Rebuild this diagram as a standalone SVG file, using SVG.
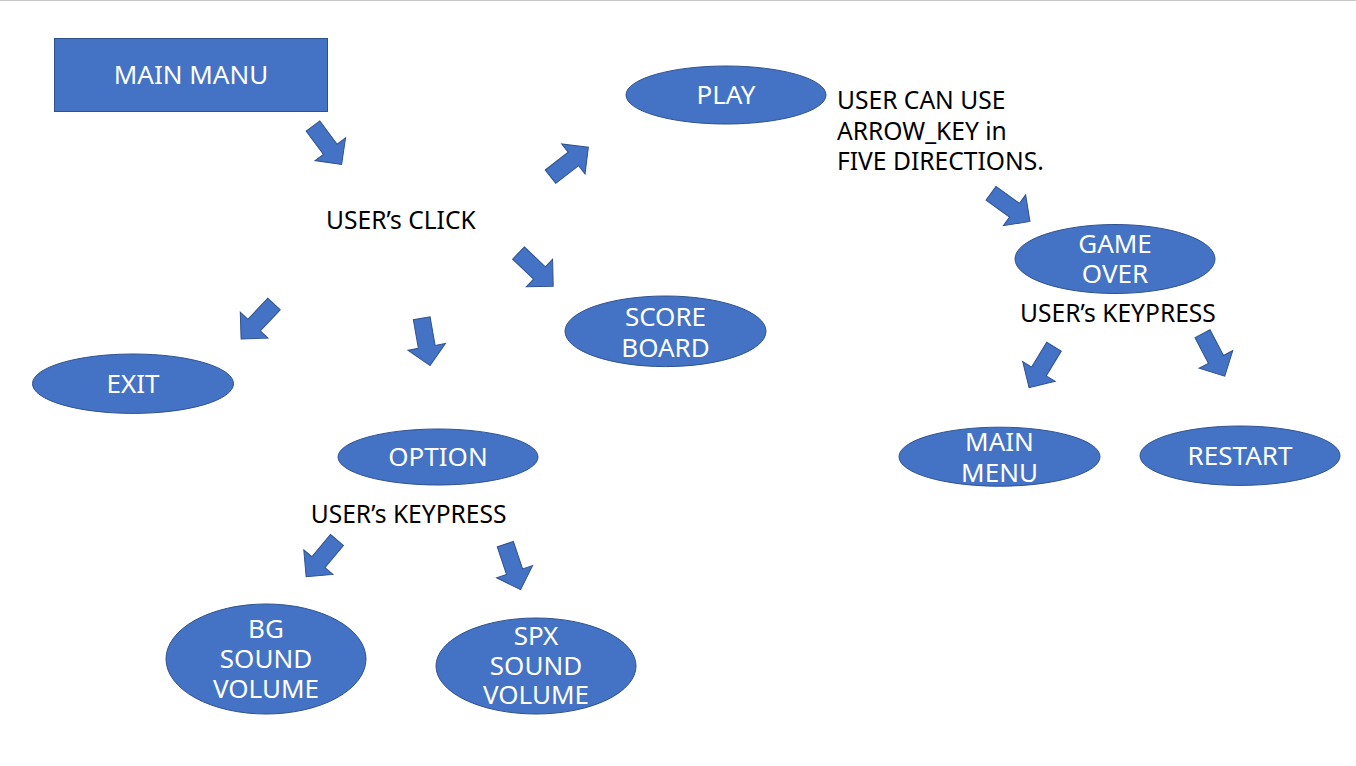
<svg xmlns="http://www.w3.org/2000/svg" xmlns:xlink="http://www.w3.org/1999/xlink" width="1356" height="766" viewBox="0 0 1356 766">
<style>
.node{fill:#4472C4;stroke:#2F528F;stroke-width:1}
.nt{font-family:"Noto Sans","Liberation Sans",sans-serif;font-size:26px;fill:#ffffff;text-anchor:middle}
.lt{font-family:"Noto Sans","Liberation Sans",sans-serif;font-size:24.6px;fill:#000000}
.arr{fill:#4472C4;stroke:#2F528F;stroke-width:1}
</style>
<defs>
<path id="arr" d="M0,-8.5 H29 V-19 L48,0 L29,19 V8.5 H0 Z"/>
</defs>
<rect x="0" y="0" width="1356" height="766" fill="#ffffff"/>
<line x1="0" y1="0.5" x2="1356" y2="0.5" stroke="#c8c8c8" stroke-width="1"/>
<g id="connectors" class="arr">
<use xlink:href="#arr" transform="translate(313,126) rotate(53.4)"/>
<use xlink:href="#arr" transform="translate(550.5,176.7) rotate(-37.9)"/>
<use xlink:href="#arr" transform="translate(991,193.3) rotate(35.8)"/>
<use xlink:href="#arr" transform="translate(518.5,253) rotate(43.7)"/>
<use xlink:href="#arr" transform="translate(274,304) rotate(133.3)"/>
<use xlink:href="#arr" transform="translate(421.7,318.3) rotate(80)"/>
<use xlink:href="#arr" transform="translate(337,540) rotate(130)"/>
<use xlink:href="#arr" transform="translate(505.3,544.2) rotate(71.4)"/>
<use xlink:href="#arr" transform="translate(1054,346.7) rotate(121.3)"/>
<use xlink:href="#arr" transform="translate(1202.5,333.7) rotate(62.4)"/>
</g>
<g id="main-manu">
<rect class="node" x="54.5" y="38.5" width="273" height="73"/>
<text class="nt" x="191" y="84">MAIN MANU</text>
</g>
<g id="play">
<ellipse class="node" cx="726" cy="95" rx="100" ry="29"/>
<text class="nt" x="726" y="103.5">PLAY</text>
</g>
<g id="label-arrow-key">
<text class="lt" x="837" y="109">USER CAN USE<tspan x="837" y="139.5">ARROW_KEY in</tspan><tspan x="837" y="169.5">FIVE DIRECTIONS.</tspan></text>
</g>
<g id="label-click">
<text class="lt" x="326" y="229.3">USER’s CLICK</text>
</g>
<g id="game-over">
<ellipse class="node" cx="1115" cy="259" rx="100" ry="34.5"/>
<text class="nt" x="1115" y="252.7">GAME<tspan x="1115" y="283.3">OVER</tspan></text>
</g>
<g id="label-keypress-right">
<text class="lt" x="1020" y="321.7">USER’s KEYPRESS</text>
</g>
<g id="score-board">
<ellipse class="node" cx="665.5" cy="331.3" rx="100.5" ry="35.3"/>
<text class="nt" x="665.5" y="326">SCORE<tspan x="665.5" y="356.7">BOARD</tspan></text>
</g>
<g id="exit">
<ellipse class="node" cx="133" cy="383.7" rx="100.5" ry="29.7"/>
<text class="nt" x="133" y="393.3">EXIT</text>
</g>
<g id="option">
<ellipse class="node" cx="438" cy="457" rx="100" ry="28"/>
<text class="nt" x="438" y="466">OPTION</text>
</g>
<g id="label-keypress-left">
<text class="lt" x="310.7" y="522.7">USER’s KEYPRESS</text>
</g>
<g id="main-menu">
<ellipse class="node" cx="999.5" cy="456.7" rx="100.5" ry="29.5"/>
<text class="nt" x="999.5" y="450.7">MAIN<tspan x="999.5" y="481.7">MENU</tspan></text>
</g>
<g id="restart">
<ellipse class="node" cx="1240" cy="455.7" rx="100" ry="29.7"/>
<text class="nt" x="1240" y="465">RESTART</text>
</g>
<g id="bg-sound-volume">
<ellipse class="node" cx="266" cy="659" rx="100" ry="55"/>
<text class="nt" x="266" y="638.3">BG<tspan x="266" y="668.3">SOUND</tspan><tspan x="266" y="697.7">VOLUME</tspan></text>
</g>
<g id="spx-sound-volume">
<ellipse class="node" cx="536" cy="666" rx="100" ry="48"/>
<text class="nt" x="536" y="645">SPX<tspan x="536" y="675">SOUND</tspan><tspan x="536" y="704.3">VOLUME</tspan></text>
</g>
</svg>
